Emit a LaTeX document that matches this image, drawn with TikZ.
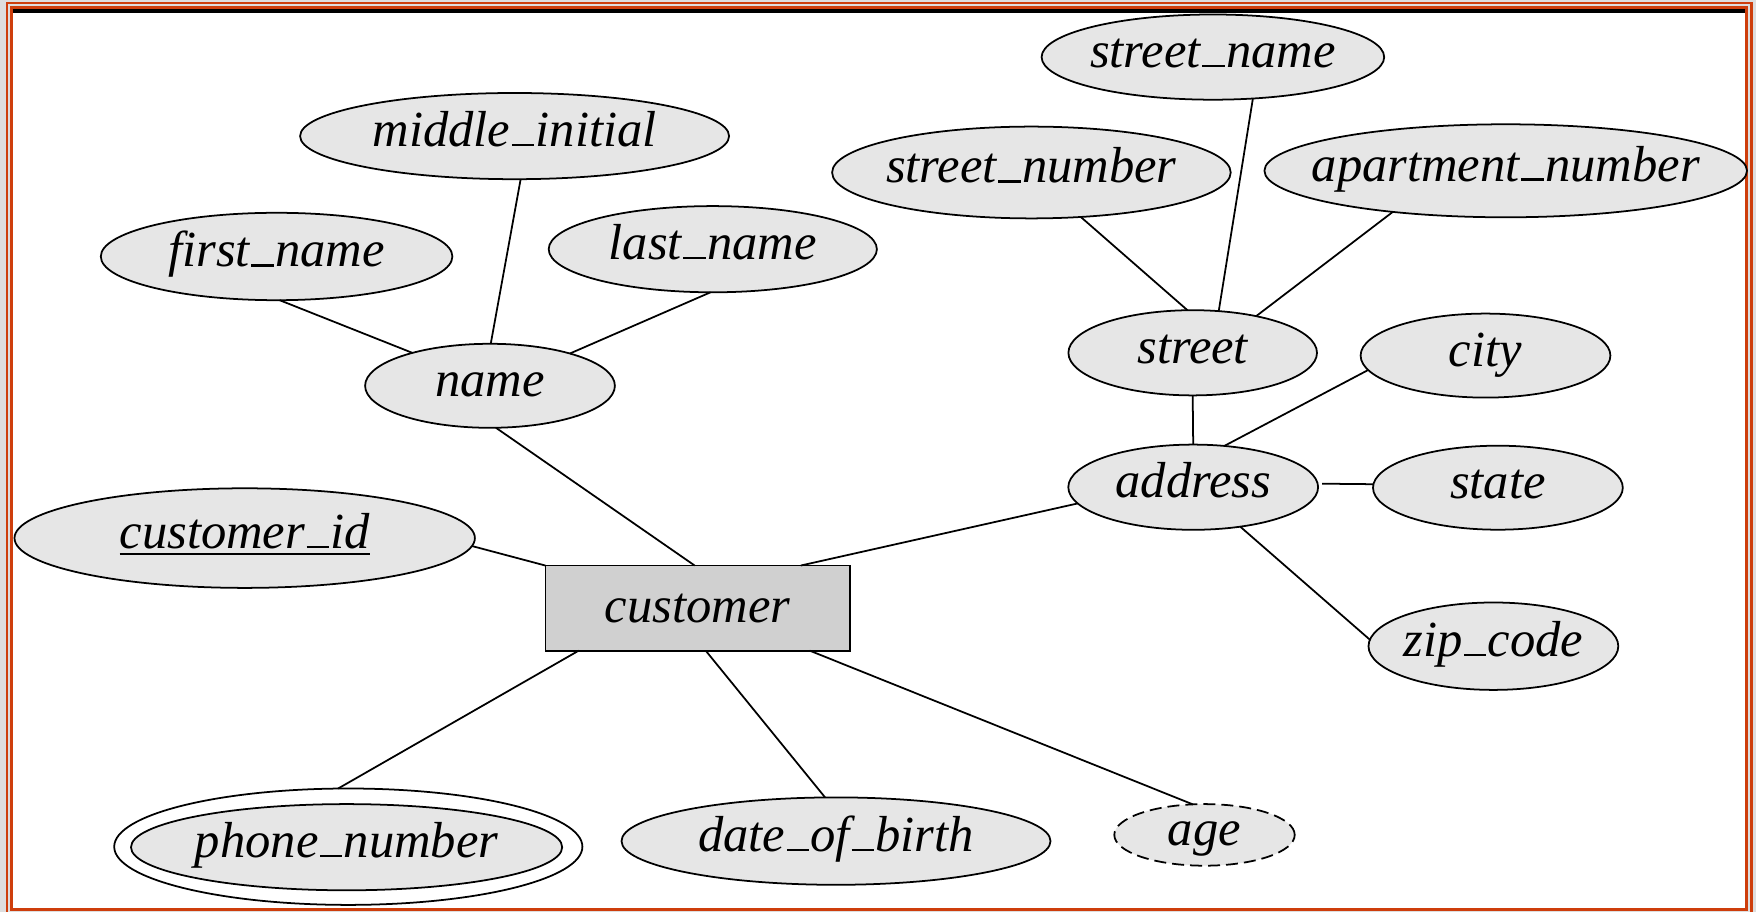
\documentclass[tikz,border=0pt]{standalone}
\usepackage{fontspec}
\setmainfont{Liberation Serif}
\usetikzlibrary{shapes.geometric}
\definecolor{attrfill}{RGB}{230,230,230}
\definecolor{entfill}{RGB}{208,208,208}
\definecolor{framegray}{RGB}{222,222,222}
\definecolor{frameorange}{RGB}{206,62,12}
\newcommand{\lb}[1]{\raisebox{-1.05mm}[0pt][0pt]{\makebox[0pt]{\itshape #1}}}
\newcommand{\us}{\kern0.03em\rule[0.005em]{0.44em}{0.055em}\kern0.03em}
\tikzset{
  attr/.style={ellipse, draw, fill=attrfill, line width=0.5pt, inner sep=0pt, outer sep=0pt},
  ent/.style={rectangle, draw, fill=entfill, line width=0.5pt, inner sep=0pt, outer sep=0pt},
  conn/.style={line width=0.5pt},
  every node/.style={font=\fontsize{14.4}{16}\selectfont}
}
\begin{document}
\begin{tikzpicture}[x=0.1mm,y=-0.1mm]
\useasboundingbox (0,0) rectangle (1756,912);
% frame
\fill[framegray] (0,0) rectangle (1756,912);
\draw[frameorange, line width=0.25mm] (7,3) rectangle (1751.5,918);
\draw[frameorange, fill=white, line width=0.3mm] (11.5,8) rectangle (1746,909.5);
\draw[black, line width=0.4mm] (13,11.3) -- (1744.5,11.3);

% attributes
\node[attr, minimum width=42.9mm, minimum height=8.62mm] (mid) at (514.6,136.1) {\lb{middle\us initial}};
\node[attr, minimum width=35.16mm, minimum height=8.74mm] (first) at (276.6,256.5) {\lb{first\us name}};
\node[attr, minimum width=32.82mm, minimum height=8.62mm] (last) at (712.8,249.2) {\lb{last\us name}};
\node[attr, minimum width=24.98mm, minimum height=8.4mm] (name) at (490,385.8) {\lb{name}};
\node[attr, minimum width=46.04mm, minimum height=9.96mm] (cid) at (244.7,538.1) {\lb{\underline{customer\us id}}};
\node[ent, minimum width=30.46mm, minimum height=8.51mm] (cust) at (697.7,608.1) {\raisebox{-1.4mm}[0pt][0pt]{\makebox[0pt]{\itshape customer}}};
\node[ellipse, draw, fill=white, line width=0.5pt, inner sep=0pt, outer sep=0pt, minimum width=46.82mm, minimum height=11.64mm] (phoneo) at (348.3,846.7) {};
\node[attr, minimum width=43.12mm, minimum height=8.62mm] (phone) at (346.6,847.2) {\lb{phone\us number}};
\node[attr, minimum width=42.9mm, minimum height=8.74mm] (dob) at (836,841.1) {\lb{date\us of\us birth}};
\node[attr, dash pattern=on 1.2mm off 0.6mm, minimum width=18.04mm, minimum height=6.16mm] (age) at (1204.5,834.9) {\lb{age}};
\node[attr, minimum width=34.26mm, minimum height=8.52mm] (sname) at (1212.9,57.1) {\lb{street\us name}};
\node[attr, minimum width=39.86mm, minimum height=9.18mm] (snum) at (1031.4,172.5) {\lb{street\us number}};
\node[attr, minimum width=48.26mm, minimum height=9.3mm] (apt) at (1505.7,170.8) {\lb{apartment\us number}};
\node[attr, minimum width=24.86mm, minimum height=8.52mm] (street) at (1192.7,352.8) {\lb{street}};
\node[attr, minimum width=24.98mm, minimum height=8.4mm] (city) at (1485.5,355.6) {\lb{city}};
\node[attr, minimum width=24.98mm, minimum height=8.52mm] (addr) at (1193.2,487.2) {\lb{address}};
\node[attr, minimum width=24.98mm, minimum height=8.4mm] (state) at (1497.9,487.7) {\lb{state}};
\node[attr, minimum width=24.98mm, minimum height=8.74mm] (zip) at (1493.4,646.2) {\lb{zip\us code}};

% connectors
\draw[conn] (first.-86) -- (name.157);
\draw[conn] (mid.-82) -- (name.89);
\draw[conn] (last.-93) -- (name.22);
\draw[conn] (name.-82) -- ([xshift=-0.3mm]cust.north);
\draw[conn] (cid.-2) -- (cust.north west);
\draw[conn] (addr.188) -- ([xshift=10.3mm]cust.north);
\draw[conn] ([xshift=-11.9mm]cust.south) -- (phoneo.100);
\draw[conn] ([xshift=0.8mm]cust.south) -- (dob.104);
\draw[conn] ([xshift=11.2mm]cust.south) -- (age.111);
\draw[conn] (snum.-42) -- (street.97);
\draw[conn] (sname.-46) -- (street.58);
\draw[conn] (apt.200) -- (street.30);
\draw[conn] (street.south) -- (addr.north);
\draw[conn] (city.187) -- (addr.53);
\draw[conn] ([xshift=0.4mm,yshift=0.35mm]addr.east) -- ([yshift=0.35mm]state.west);
\draw[conn] (addr.-40) -- (zip.177);
\end{tikzpicture}
\end{document}
